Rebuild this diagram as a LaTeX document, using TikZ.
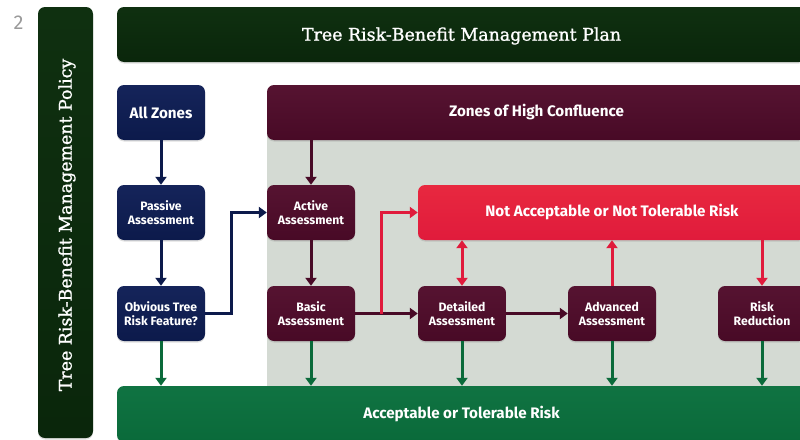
\documentclass[tikz,border=0pt]{standalone}
\usepackage{fontspec}
\setmainfont{Fira Sans}
\newfontfamily\slab{DejaVu Serif}[FakeBold=1.2]
\newfontfamily\lab{Fira Sans}
\usetikzlibrary{arrows.meta,shadows,calc}
\definecolor{navy}{HTML}{0C1A4B}
\definecolor{navytop}{HTML}{15245A}
\definecolor{maroon}{HTML}{480A26}
\definecolor{maroontop}{HTML}{561331}
\definecolor{redbox}{HTML}{E01B3C}
\definecolor{redtop}{HTML}{E8283F}
\definecolor{dkgreen}{HTML}{0A260B}
\definecolor{dkgreentop}{HTML}{0F3010}
\definecolor{accgreen}{HTML}{0A6A3A}
\definecolor{accgreentop}{HTML}{107342}
\definecolor{graybg}{HTML}{D4DAD3}
\definecolor{numgray}{HTML}{9A9A9A}
\tikzset{
  base/.style={rounded corners=7pt, inner sep=0pt, text=white, align=center,
    drop shadow={opacity=0.25, shadow xshift=0pt, shadow yshift=-1.5pt}},
  navybox/.style={base, top color=navytop, bottom color=navy, minimum width=88pt, minimum height=55pt},
  marbox/.style={base, top color=maroontop, bottom color=maroon, minimum width=88pt, minimum height=55pt},
  smalltxt/.style={font=\lab\bfseries\fontsize{12.2}{14}\selectfont},
  bigtxt/.style={font=\lab\bfseries\fontsize{15.2}{17}\selectfont},
  slabtxt/.style={font=\slab\fontsize{17.4}{18}\selectfont},
  arr/.style={line width=3pt, -{Triangle[width=11pt,length=8pt]}},
  navyarr/.style={arr, draw=navy},
  mararr/.style={arr, draw=maroon},
  redarr/.style={arr, draw=redbox},
  grarr/.style={arr, draw=accgreen},
}
\begin{document}
\begin{tikzpicture}[x=1pt,y=-1pt]
\useasboundingbox (0,0) rectangle (800,439);
\clip (0,0) rectangle (800,439);
% page number
\node[text=numgray, font=\lab\fontsize{20}{20}\selectfont] (pnum) at (18.5,23) {2};
% left policy bar
\node[base, top color=dkgreentop, bottom color=dkgreen, minimum width=55pt, minimum height=431pt] (policy) at (65.5,222.5) {};
\node[rotate=90, text=white, slabtxt] (policytxt) at (67,225) {Tree Risk-Benefit Management Policy};
% top plan bar
\node[base, top color=dkgreentop, bottom color=dkgreen, minimum width=689pt, minimum height=55pt] (plan) at (461.5,34.5) {};
\node[text=white, slabtxt] (plantxt) at (461.5,36) {Tree Risk-Benefit Management Plan};
% gray background
\fill[graybg] (267,130) rectangle (806,386);
% zones of high confluence
\node[base, top color=maroontop, bottom color=maroon, minimum width=539pt, minimum height=55pt, bigtxt] (zones) at (536.5,112.5) {Zones of High Confluence};
% not acceptable
\node[base, top color=redtop, bottom color=redbox, minimum width=388pt, minimum height=55pt, bigtxt] (notacc) at (612,212.5) {Not Acceptable or Not Tolerable Risk};
% acceptable
\node[base, top color=accgreentop, bottom color=accgreen, minimum width=689pt, minimum height=56pt, bigtxt] (acc) at (461.5,414) {Acceptable or Tolerable Risk};
% navy boxes
\node[navybox, bigtxt] (allz) at (161,112.5) {All Zones};
\node[navybox, smalltxt] (passive) at (161,212.5) {Passive\\Assessment};
\node[navybox, smalltxt] (obvious) at (161,313.5) {Obvious Tree\\Risk Feature?};
% maroon boxes
\node[marbox, smalltxt] (active) at (311,212.5) {Active\\Assessment};
\node[marbox, smalltxt] (basic) at (311,313.5) {Basic\\Assessment};
\node[marbox, smalltxt] (detailed) at (462,313.5) {Detailed\\Assessment};
\node[marbox, smalltxt] (advanced) at (612,313.5) {Advanced\\Assessment};
\node[marbox, smalltxt] (reduction) at (762,313.5) {Risk\\Reduction};
% navy arrows
\draw[navyarr] (allz) -- (passive);
\draw[navyarr] (passive) -- (obvious);
\draw[navyarr] (obvious.east) -- ++(26,0) |- (active.west);
% maroon arrows
\draw[mararr] (zones.south -| active.north) -- (active);
\draw[mararr] (active) -- (basic);
\draw[mararr] (basic) -- (detailed);
\draw[mararr] (detailed) -- (advanced);
% red arrows
\coordinate (split) at ($(basic.east)+(26,0)$);
\draw[redarr] (split) |- (notacc.west);
\draw[redarr, {Triangle[width=11pt,length=8pt]}-{Triangle[width=11pt,length=8pt]}] (notacc.south -| detailed.north) -- (detailed);
\draw[redarr] (advanced) -- (notacc.south -| advanced.north);
\draw[redarr] (notacc.south -| reduction.north) -- (reduction);
% green arrows
\foreach \n in {obvious,basic,detailed,advanced,reduction}
  \draw[grarr] (\n.south) -- (acc.north -| \n.south);
\end{tikzpicture}
\end{document}
